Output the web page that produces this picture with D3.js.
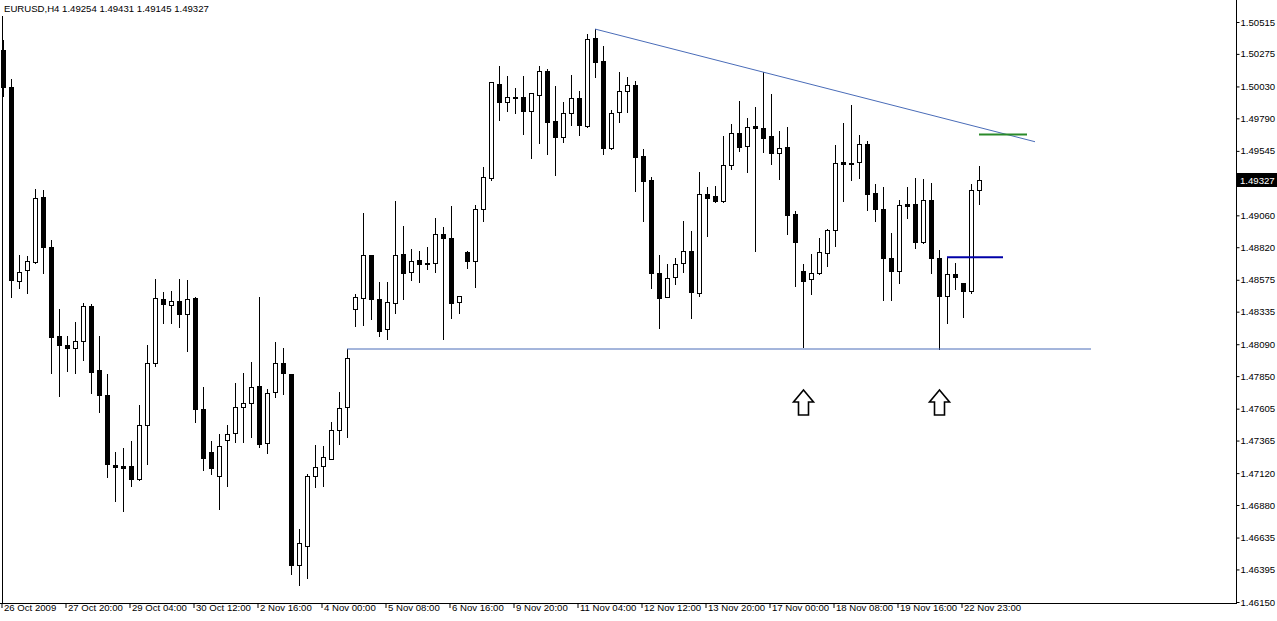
<!DOCTYPE html>
<html><head><meta charset="utf-8">
<script src="https://cdn.jsdelivr.net/npm/d3@7"></script>
<style>
html,body{margin:0;padding:0;background:#fff;}
svg{display:block;}
text{font-family:"Liberation Sans",Arial,sans-serif;}
</style></head><body>
<svg id="c" width="1277" height="621"></svg>
<script>
const symbolTitle = "EURUSD,H4  1.49254 1.49431 1.49145 1.49327";
const opens = [1.50304,1.50024,1.48568,1.48649,1.48707,1.49196,1.48819,1.48152,1.48084,1.48059,
1.48116,1.48375,1.47894,1.47708,1.47181,1.47173,1.47173,1.47076,1.47480,1.47946,
1.48430,1.48387,1.48415,1.48315,1.48438,1.47600,1.47277,1.47098,1.47367,1.47420,
1.47620,1.47645,1.47773,1.47344,1.47728,1.47946,1.47864,1.46426,1.46574,1.47098,
1.47173,1.47228,1.47442,1.47620,1.48353,1.48436,1.48759,1.48430,1.48202,1.48398,
1.48767,1.48631,1.48724,1.48701,1.48699,1.48919,1.48889,1.48405,1.48784,1.48714,
1.49105,1.49339,1.50046,1.49911,1.49947,1.49951,1.49847,1.49968,1.50146,1.49768,
1.49647,1.49832,1.49943,1.49735,1.50392,1.50224,1.49563,1.49835,1.49998,1.50041,
1.49509,1.49326,1.48624,1.48448,1.48594,1.48699,1.48789,1.48473,1.49218,1.49205,
1.49170,1.49439,1.49677,1.49584,1.49732,1.49720,1.49657,1.49527,1.49574,1.49070,
1.48641,1.48579,1.48624,1.48779,1.48950,1.49461,1.49454,1.49459,1.49595,1.49226,
1.49108,1.48737,1.48643,1.49143,1.49143,1.48862,1.49175,1.48737,1.48455,1.48618,
1.48553,1.48491,1.49254];
const highs = [1.50380,1.50084,1.48759,1.48754,1.49256,1.49248,1.48874,1.48353,1.48152,1.48255,
1.48402,1.48393,1.48152,1.47866,1.47279,1.47309,1.47362,1.47633,1.48084,1.48581,
1.48481,1.48491,1.48581,1.48573,1.48448,1.47766,1.47362,1.47414,1.47482,1.47798,
1.47873,1.47956,1.48448,1.47753,1.48104,1.48059,1.47864,1.46699,1.47111,1.47332,
1.47327,1.47502,1.47730,1.48052,1.48468,1.49078,1.48759,1.48556,1.48556,1.49166,
1.48977,1.48807,1.48792,1.48819,1.49040,1.48970,1.49130,1.48453,1.48794,1.49138,
1.49421,1.50061,1.50186,1.50109,1.50016,1.50109,1.49981,1.50182,1.50161,1.50033,
1.49911,1.50116,1.49996,1.50427,1.50462,1.50332,1.49853,1.50136,1.50099,1.50073,
1.49557,1.49346,1.48761,1.48691,1.48741,1.49017,1.48942,1.49384,1.49275,1.49281,
1.49659,1.49745,1.49923,1.49795,1.49878,1.50141,1.49973,1.49695,1.49725,1.49095,
1.48694,1.48769,1.48892,1.48957,1.49589,1.49757,1.49890,1.49665,1.49622,1.49296,
1.49271,1.48925,1.49175,1.49271,1.49339,1.49331,1.49301,1.48799,1.48744,1.48699,
1.48553,1.49294,1.49431];
const lows = [1.49958,1.48448,1.48511,1.48478,1.48699,1.48624,1.47871,1.47703,1.47891,1.47876,
1.47971,1.47725,1.47580,1.47088,1.46910,1.46837,1.47025,1.47068,1.47186,1.47928,
1.48247,1.48252,1.48217,1.48041,1.47507,1.47143,1.47113,1.46850,1.47025,1.47356,
1.47356,1.47394,1.47319,1.47274,1.47690,1.47715,1.46361,1.46278,1.46328,1.47013,
1.47025,1.47223,1.47337,1.47394,1.48229,1.48235,1.48278,1.48154,1.48127,1.48323,
1.48433,1.48573,1.48560,1.48654,1.48636,1.48127,1.48285,1.48327,1.48666,1.48523,
1.49020,1.49326,1.49777,1.49847,1.49832,1.49672,1.49494,1.49602,1.49522,1.49366,
1.49614,1.49740,1.49665,1.49727,1.50103,1.49519,1.49560,1.49765,1.49835,1.49245,
1.49020,1.48515,1.48210,1.48448,1.48541,1.48631,1.48290,1.48455,1.48907,1.49163,
1.49163,1.49406,1.49546,1.49388,1.48794,1.49539,1.49446,1.49333,1.48922,1.48530,
1.48071,1.48468,1.48620,1.48681,1.48829,1.49168,1.49328,1.49343,1.49100,1.49020,
1.48423,1.48423,1.48553,1.49038,1.48812,1.48854,1.48624,1.48052,1.48247,1.48506,
1.48297,1.48478,1.49145];
const closes = [1.50026,1.48573,1.48631,1.48716,1.49188,1.48824,1.48142,1.48082,1.48059,1.48116,
1.48375,1.47883,1.47708,1.47186,1.47168,1.47161,1.47078,1.47482,1.47946,1.48436,
1.48390,1.48413,1.48315,1.48430,1.47600,1.47236,1.47161,1.47324,1.47412,1.47615,
1.47645,1.47766,1.47339,1.47721,1.47946,1.47871,1.46426,1.46592,1.47098,1.47168,
1.47239,1.47442,1.47608,1.47984,1.48443,1.48759,1.48428,1.48192,1.48405,1.48759,
1.48624,1.48714,1.48691,1.48691,1.48919,1.48892,1.48402,1.48451,1.48719,1.49105,
1.49346,1.50061,1.49915,1.49951,1.49940,1.49847,1.49981,1.50146,1.49765,1.49652,
1.49828,1.49943,1.49740,1.50387,1.50216,1.49563,1.49828,1.49998,1.50041,1.49501,
1.49321,1.48624,1.48440,1.48586,1.48691,1.48789,1.48485,1.49218,1.49193,1.49168,
1.49439,1.49677,1.49577,1.49727,1.49715,1.49644,1.49527,1.49564,1.49062,1.48862,
1.48568,1.48624,1.48782,1.48950,1.49452,1.49449,1.49444,1.49595,1.49218,1.49105,
1.48737,1.48643,1.49135,1.49130,1.48862,1.49175,1.48737,1.48455,1.48618,1.48598,
1.48493,1.49251,1.49327];

const priceTicks = [1.50515,1.50275,1.50030,1.49790,1.49545,1.49060,1.48820,1.48575,1.48335,1.48090,
1.47850,1.47605,1.47365,1.47120,1.46880,1.46635,1.46395,1.46150];
const timeTickBars = [0,8,16,24,32,40,48,56,64,72,80,88,96,104,112,120];
const timeTickLabels = ["26 Oct 2009","27 Oct 20:00","29 Oct 04:00","30 Oct 12:00","2 Nov 16:00",
"4 Nov 00:00","5 Nov 08:00","6 Nov 16:00","9 Nov 20:00","11 Nov 04:00","12 Nov 12:00",
"13 Nov 20:00","17 Nov 00:00","18 Nov 08:00","19 Nov 16:00","22 Nov 23:00"];
const currentPrice = 1.49327;

// drawn objects: [startBar, startPrice, endBar, endPrice]
const trendLine = [74, 1.50462, 129, 1.49614];
const supportLine = [43, 1.48054, 136, 1.48054];
const blueLevel = [118, 1.48744, 125, 1.48744];
const greenLevel = [122, 1.49668, 128, 1.49668];
const arrowBars = [100, 117];
const arrowTipPrice = 1.47745;

const W = 1277, H = 621;
const plotRight = 1236, plotBottom = 603;
const FS = "9.6px";
const svg = d3.select("#c");
svg.append("rect").attr("width",W).attr("height",H).attr("fill","#fff");

const x = d3.scaleLinear().domain([0, 1]).range([3, 11]);
const y = d3.scaleLinear().domain([1.46150, 1.50515]).range([602, 22]);

const data = opens.map((o,i)=>({i, o, h:highs[i], l:lows[i], c:closes[i]}));

const g = svg.append("g");
const px = v => Math.round(v);

// wicks
g.selectAll("line.wick").data(data).enter().append("line")
  .attr("x1", d=>px(x(d.i))+0.5).attr("x2", d=>px(x(d.i))+0.5)
  .attr("y1", d=>px(y(d.h))).attr("y2", d=>px(y(d.l))+1)
  .attr("stroke","#000").attr("stroke-width",1);

// bodies
g.selectAll("rect.body").data(data).enter().append("rect")
  .attr("x", d=>px(x(d.i))-2+0.5)
  .attr("y", d=>px(y(Math.max(d.o,d.c)))+0.5)
  .attr("width", 4)
  .attr("height", d=>Math.max(0, px(y(Math.min(d.o,d.c))) - px(y(Math.max(d.o,d.c)))))
  .attr("fill", d=> d.c >= d.o ? "#fff" : "#000")
  .attr("stroke","#000").attr("stroke-width",1);

// lines
function seg(a, color, w){
  svg.append("line")
    .attr("x1", x(a[0])).attr("y1", y(a[1]))
    .attr("x2", x(a[2])).attr("y2", y(a[3]))
    .attr("stroke", color).attr("stroke-width", w);
}
seg(trendLine, "#4a6cb8", 1);
seg(supportLine, "#4a6cb8", 1);
seg(blueLevel, "#0000a8", 2);
seg(greenLevel, "#2a8a2a", 2);

// arrows
arrowBars.forEach(b=>{
  const cx = px(x(b)) + 0.5, ty = y(arrowTipPrice);
  const pts = [[cx,ty],[cx+10,ty+12],[cx+5,ty+12],[cx+5,ty+25],[cx-5,ty+25],[cx-5,ty+12],[cx-10,ty+12]];
  svg.append("path").attr("d", d3.line()(pts)+"Z")
    .attr("fill","#fff").attr("stroke","#000").attr("stroke-width",1.6)
    .attr("stroke-linejoin","miter");
});

// frame
svg.append("line").attr("x1",2.5).attr("x2",2.5).attr("y1",16).attr("y2",plotBottom).attr("stroke","#000");
svg.append("line").attr("x1",plotRight+0.5).attr("x2",plotRight+0.5).attr("y1",0).attr("y2",plotBottom+1).attr("stroke","#000");
svg.append("line").attr("x1",0).attr("x2",plotRight+1).attr("y1",plotBottom+0.5).attr("y2",plotBottom+0.5).attr("stroke","#000");

// right price axis
const yAxis = d3.axisRight(y).tickValues(priceTicks).tickSize(3).tickPadding(1)
  .tickFormat(d3.format(".5f"));
const ya = svg.append("g").attr("transform",`translate(${plotRight+0.5},0)`).call(yAxis);
ya.select(".domain").remove();
ya.selectAll("text").attr("font-family","Liberation Sans").attr("font-size",FS).attr("fill","#000");
ya.selectAll("line").attr("stroke","#000");

// bottom time axis
const tickX = d3.scaleLinear().domain([0,1]).range([1, 9]);
const xAxis = d3.axisBottom(tickX).tickValues(timeTickBars).tickSize(5).tickPadding(2)
  .tickFormat((d,i)=>timeTickLabels[i]);
const xa = svg.append("g").attr("transform",`translate(0.5,${plotBottom})`).call(xAxis);
xa.select(".domain").remove();
xa.selectAll("line").attr("stroke","#000");
xa.selectAll("text").attr("text-anchor","start").attr("dx","2").attr("dy","0.1em")
  .attr("font-family","Liberation Sans").attr("font-size",FS).attr("fill","#000");

// current price tag
const cy = y(currentPrice);
svg.append("rect").attr("x",plotRight+1).attr("y",Math.round(cy)-7).attr("width",W-plotRight-1).attr("height",14).attr("fill","#000");
svg.append("text").attr("x",plotRight+4).attr("y",Math.round(cy)+3.5)
  .attr("font-size",FS).attr("fill","#fff").text(d3.format(".5f")(currentPrice));

// title
svg.append("text").attr("x",4).attr("y",12).attr("font-size",FS).attr("fill","#000").text(symbolTitle);
</script>
</body></html>
